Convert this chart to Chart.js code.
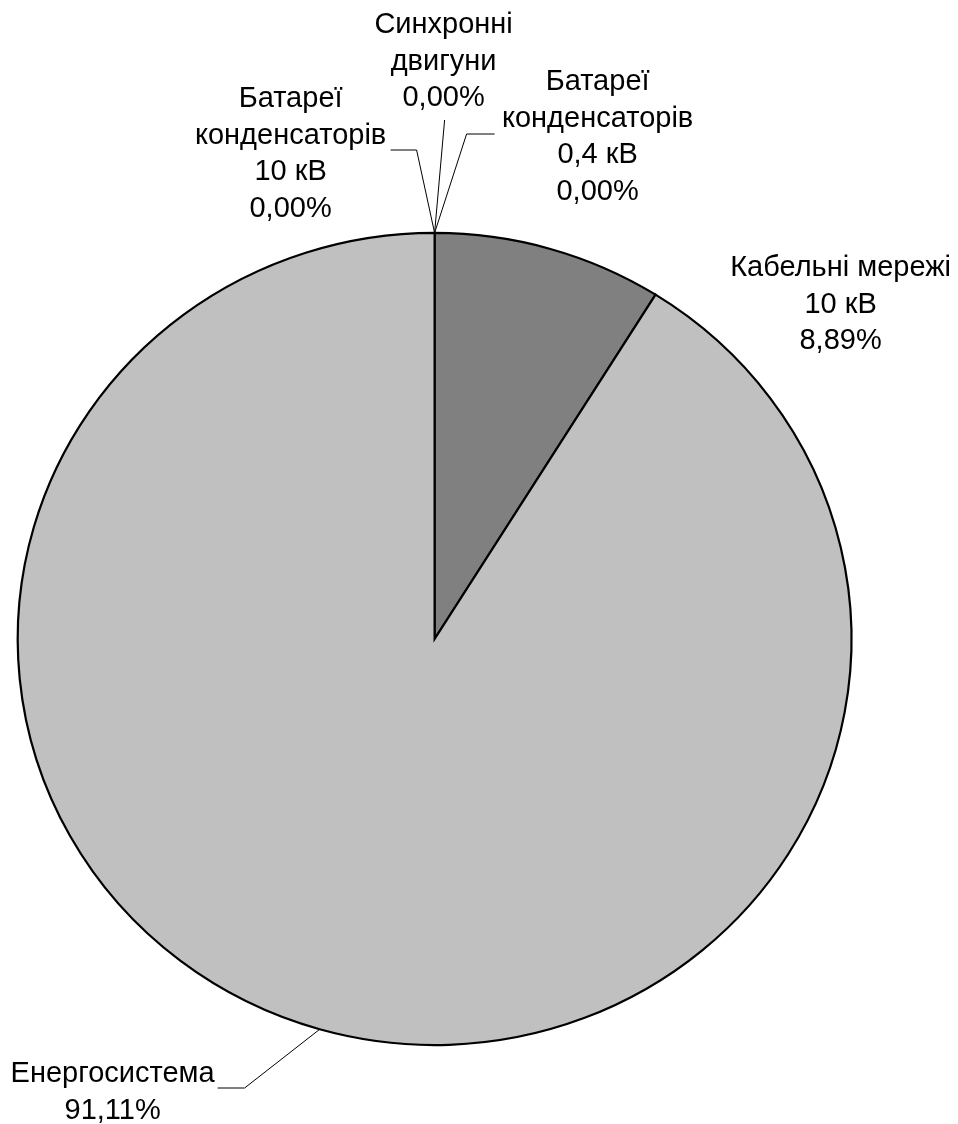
<!DOCTYPE html>
<html>
<head>
<meta charset="utf-8">
<script src="https://cdn.jsdelivr.net/npm/chart.js@4/dist/chart.umd.min.js"></script>
<style>
  html, body { margin: 0; padding: 0; background: #ffffff; }
  #wrap { width: 958px; height: 1124px; }
</style>
</head>
<body>
<div id="wrap"><canvas id="c" width="958" height="1124"></canvas></div>
<script>
// ---- data ----
const categories = [
  ["Кабельні мережі", "10 кВ"],
  ["Енергосистема"],
  ["Батареї", "конденсаторів", "10 кВ"],
  ["Синхронні", "двигуни"],
  ["Батареї", "конденсаторів", "0,4 кВ"]
];
const shares = [8.89, 91.11, 0, 0, 0];
const sliceColors = ["#808080", "#c0c0c0", "#c0c0c0", "#c0c0c0", "#c0c0c0"];

// ---- label layout (offsets relative to the pie centre, px) ----
const labelLayout = [
  { dx: 406, dy: -363, leader: null },
  { dx: -322, dy: 443, leader: [[-190, 449], [-217, 449]] },
  { dx: -144, dy: -532, leader: [[-18, -489], [-44, -489]] },
  { dx: 9, dy: -606, leader: [[10, -519]] },
  { dx: 163, dy: -549, leader: [[32, -505], [60, -505]] }
];
const FONT = '29px "Liberation Sans", Arial, sans-serif';
const LINE_H = 36.6;
const Y_SCALE = 0.974; // reference pie is slightly flattened vertically

function fmtPct(v) { return v.toFixed(2).replace('.', ',') + '%'; }

const squashPlugin = {
  id: 'squash',
  beforeDatasetsDraw(chart) {
    const arc = chart.getDatasetMeta(0).data[0];
    const ctx = chart.ctx;
    ctx.save();
    ctx.translate(0, arc.y);
    ctx.scale(1, Y_SCALE);
    ctx.translate(0, -arc.y);
  },
  afterDatasetsDraw(chart) {
    chart.ctx.restore();
  }
};

const labelPlugin = {
  id: 'pieLabels',
  afterDraw(chart) {
    const ctx = chart.ctx;
    const meta = chart.getDatasetMeta(0);
    const total = shares.reduce((a, b) => a + b, 0);
    meta.data.forEach((arc, i) => {
      const cx = arc.x, cy = arc.y;
      const r = arc.outerRadius;
      const mid = (arc.startAngle + arc.endAngle) / 2;
      const ax = cx + Math.cos(mid) * r;
      const ay = cy + Math.sin(mid) * r * Y_SCALE;
      const L = labelLayout[i];
      if (L.leader) {
        ctx.save();
        ctx.strokeStyle = '#000000';
        ctx.lineWidth = 1;
        ctx.beginPath();
        ctx.moveTo(ax, ay);
        L.leader.forEach(p => ctx.lineTo(cx + p[0], cy + p[1]));
        ctx.stroke();
        ctx.restore();
      }
      const lines = categories[i].concat([fmtPct(shares[i] / total * 100)]);
      ctx.save();
      ctx.font = FONT;
      ctx.fillStyle = '#000000';
      ctx.textAlign = 'center';
      ctx.textBaseline = 'alphabetic';
      lines.forEach((t, k) => ctx.fillText(t, cx + L.dx, cy + L.dy + k * LINE_H));
      ctx.restore();
    });
  }
};

new Chart(document.getElementById('c'), {
  type: 'pie',
  data: {
    labels: categories.map(c => c.join(' ')),
    datasets: [{
      data: shares,
      backgroundColor: sliceColors,
      borderColor: '#000000',
      borderWidth: shares.map(v => v > 0 ? 2.2 : 0),
      borderJoinStyle: 'miter'
    }]
  },
  options: {
    responsive: false,
    animation: false,
    layout: { padding: { left: 16.5, right: 105.3, top: 221, bottom: 67 } },
    plugins: { legend: { display: false }, tooltip: { enabled: false } }
  },
  plugins: [squashPlugin, labelPlugin]
});
</script>
</body>
</html>
